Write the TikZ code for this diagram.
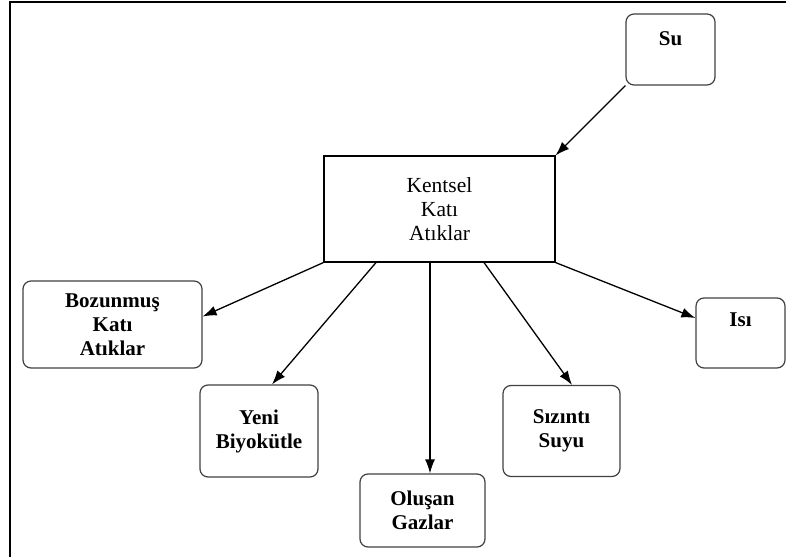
\documentclass[tikz,border=0pt]{standalone}
\usepackage{fontspec}
\setmainfont{Liberation Serif}
\usetikzlibrary{positioning, arrows.meta}

\tikzset{
    main/.style={draw, line width=1.1pt, align=center, inner sep=0pt,
        font=\fontsize{21.5}{24}\selectfont},
    item/.style={draw=black!75, line width=1.2pt, rounded corners=8pt,
        align=center, inner sep=0pt, font=\fontsize{21}{24}\selectfont\bfseries},
    arr/.style={-{Latex[length=14pt,width=10pt]}, line width=1.3pt}
}

\begin{document}
\begin{tikzpicture}[x=1pt, y=1pt, on grid]
    \useasboundingbox (0,0) rectangle (786,557);
    % frame
    \draw[line width=1.4pt] (10,0) -- (10,555) -- (786,555);

    % Define boxes
    \node[main, minimum width=231pt, minimum height=106pt] (kta) at (439.5,348) {Kentsel\\Katı\\Atıklar};
    \node[item, minimum width=89pt, minimum height=71pt, text depth=22pt] (su) [above right=159.5pt and 231pt of kta] {Su};
    \node[item, minimum width=179pt, minimum height=87pt] (boz) [below left=115.5pt and 327pt of kta] {Bozunmuş\\Katı\\Atıklar};
    \node[item, minimum width=118pt, minimum height=92pt] (yeni) [below left=222pt and 180.5pt of kta] {Yeni\\Biyokütle};
    \node[item, minimum width=125pt, minimum height=73pt] (gaz) [below left=301.5pt and 17pt of kta] {Oluşan\\Gazlar};
    \node[item, minimum width=117pt, minimum height=91pt] (siz) [below right=222pt and 122pt of kta] {Sızıntı\\Suyu};
    \node[item, minimum width=89pt, minimum height=70pt, text depth=26pt] (isi) [below right=124pt and 301pt of kta] {Isı};

    % Define arrows
    \path[arr]
    (su.south west) edge (kta.north east)
    (kta.south west) edge ([yshift=8pt]boz.east)
    ([xshift=-63.5pt]kta.south) edge ([xshift=13pt]yeni.north)
    ([xshift=-9.5pt]kta.south) edge ([xshift=-9.5pt]kta.south |- gaz.north)
    ([xshift=44.5pt]kta.south) edge ([xshift=10.5pt]siz.north)
    (kta.south east) edge ([yshift=15pt]isi.west);
\end{tikzpicture}
\end{document}
